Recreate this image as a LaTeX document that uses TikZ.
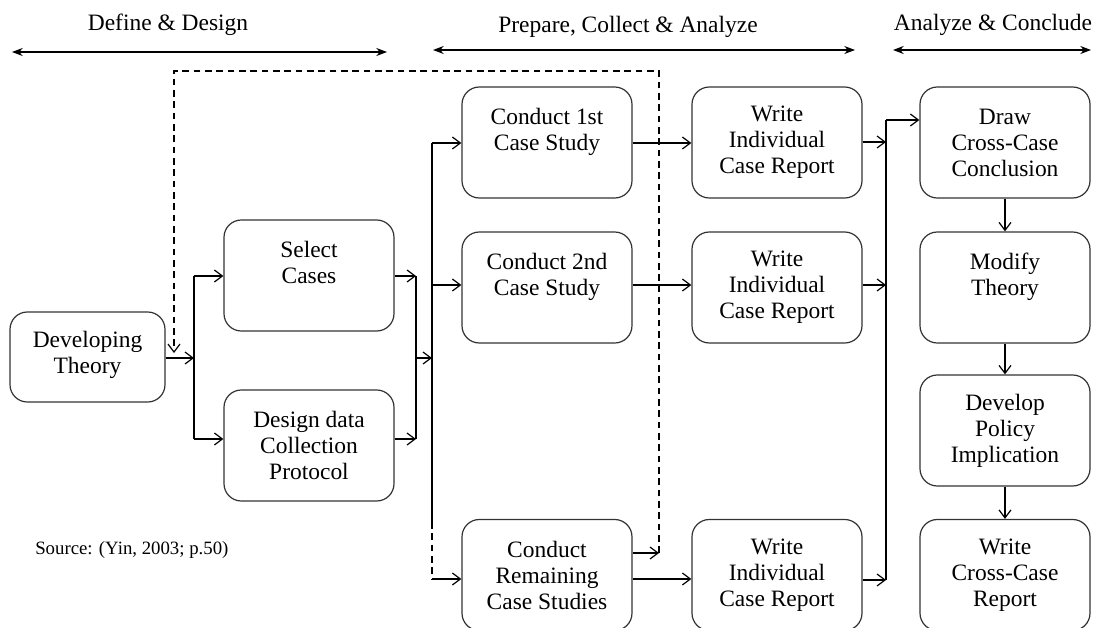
\documentclass[tikz,border=0pt]{standalone}
\usepackage{fontspec}
\setmainfont{Liberation Serif}
\usetikzlibrary{arrows.meta}
\begin{document}
\begin{tikzpicture}[x=0.75pt,y=-0.75pt,
  box/.style={draw=black!80,line width=0.9pt,rounded corners=13pt,align=center,
    minimum width=127.5pt,minimum height=83.25pt,inner sep=0pt,
    font=\fontsize{17.6pt}{19.5pt}\selectfont},
  arr/.style={line width=0.9pt,-{Straight Barb[length=6pt,width=9pt,line width=0.9pt]}},
  ln/.style={line width=0.9pt},
  dsh/.style={line width=0.9pt,dash pattern=on 5pt off 3.5pt},
  hdr/.style={font=\fontsize{17.6pt}{19.5pt}\selectfont,inner sep=0pt},
  dbl/.style={line width=1pt,{Stealth[length=8pt,width=6pt,inset=2.5pt]}-{Stealth[length=8pt,width=6pt,inset=2.5pt]}}
]
\clip (0,0) rectangle (1097,628);
\fill[white] (0,0) rectangle (1097,628);

% headers
\node[hdr] (h1) at (168,25) {Define \& Design};
\node[hdr] (h2) at (628,27) {Prepare, Collect \& Analyze};
\node[hdr] (h3) at (993,25) {Analyze \& Conclude};
\coordinate (h1l) at (12,52); \coordinate (h1r) at (387,52);
\coordinate (h2l) at (433,50); \coordinate (h2r) at (855,50);
\coordinate (h3l) at (893,50); \coordinate (h3r) at (1091,50);
\draw[dbl] (h1l) -- (h1r);
\draw[dbl] (h2l) -- (h2r);
\draw[dbl] (h3l) -- (h3r);

% boxes
\node[box,minimum width=116.25pt,minimum height=67.5pt] (dev) at (87.5,357) {Developing\\Theory\\[-12pt]\mbox{}};
\node[box] (sel) at (309,275.5) {Select\\Cases\\\mbox{}};
\node[box] (des) at (309,445.5) {Design data\\Collection\\Protocol};
\node[box] (c1) at (547,142.5) {Conduct 1st\\Case Study\\\mbox{}};
\node[box] (c2) at (547,287.5) {Conduct 2nd\\Case Study\\\mbox{}};
\node[box] (rem) at (547,575) {Conduct\\Remaining\\Case Studies};
\node[box] (w1) at (777,142.5) {Write\\Individual\\Case Report};
\node[box] (w2) at (777,287.5) {Write\\Individual\\Case Report};
\node[box] (w3) at (777,575) {Write\\Individual\\Case Report};
\node[box] (dr) at (1005,142.5) {Draw\\Cross-Case\\Conclusion};
\node[box] (mod) at (1005,287.5) {Modify\\Theory\\\mbox{}};
\node[box] (pol) at (1005,430.5) {Develop\\Policy\\Implication};
\node[box] (wc) at (1005,575) {Write\\Cross-Case\\Report};

\node[font=\fontsize{14.1pt}{16pt}\selectfont,anchor=west,inner sep=0pt] (src) at (35,550) {Source: (Yin, 2003; p.50)};

% junction coordinates
\coordinate (j1) at (194,358);
\coordinate (j1t) at (194,276);
\coordinate (j1b) at (194,439);
\coordinate (j2t) at (416,276);
\coordinate (j2b) at (416,439);
\coordinate (j2) at (416,358);
\coordinate (j3m) at (432,358);
\coordinate (j3t) at (432,143);
\coordinate (j3c) at (432,285);
\coordinate (j3s) at (432,522);
\coordinate (j3b) at (432,579);
\coordinate (j4a) at (886,142);
\coordinate (j4b) at (886,285);
\coordinate (j4c) at (886,580);
\coordinate (j4t) at (886,120);
\coordinate (dsA) at (659,553);
\coordinate (dsB) at (659,71);
\coordinate (dsC) at (174,71);
\coordinate (dsD) at (174,353);

% define & design connectors
\draw[arr] (dev.east |- j1) -- (j1);
\draw[ln] (j1t) -- (j1b);
\draw[arr] (j1t) -- (sel.west |- j1t);
\draw[arr] (j1b) -- (des.west |- j1b);
\draw[arr] (sel.east |- j2t) -- (j2t);
\draw[arr] (des.east |- j2b) -- (j2b);
\draw[ln] (j2t) -- (j2b);
\draw[arr] (j2) -- (j3m);

% to case studies
\draw[ln] (j3t) -- (j3s);
\draw[dsh] (j3s) -- (j3b);
\draw[arr] (j3t) -- (c1.west |- j3t);
\draw[arr] (j3c) -- (c2.west |- j3c);
\draw[arr] (j3b) -- (rem.west |- j3b);

% dashed feedback
\draw[arr] (rem.east |- dsA) -- (dsA);
\draw[dsh,-{Straight Barb[length=6pt,width=9pt,line width=0.9pt]}] (dsA) -- (dsB) -- (dsC) -- (dsD);

% to reports
\draw[arr] (c1.east |- j3t) -- (w1.west |- j3t);
\draw[arr] (c2.east |- j3c) -- (w2.west |- j3c);
\draw[arr] (rem.east |- j3b) -- (w3.west |- j3b);

% to conclusion
\draw[arr] (w1.east |- j4a) -- (j4a);
\draw[arr] (w2.east |- j4b) -- (j4b);
\draw[arr] (w3.east |- j4c) -- (j4c);
\draw[ln] (j4t) -- (j4c);
\draw[arr] (j4t) -- (dr.west |- j4t);

\draw[arr] (dr.south) -- (mod.north);
\draw[arr] (mod.south) -- (pol.north);
\draw[arr] (pol.south) -- (wc.north);
\end{tikzpicture}
\end{document}
